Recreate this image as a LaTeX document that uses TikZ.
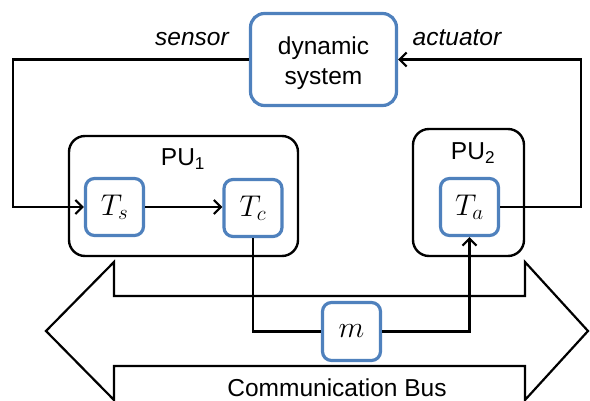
\documentclass[tikz,border=0pt]{standalone}
\usepackage{fontspec}
\setmainfont{Liberation Sans}
\DeclareFontShape{OML}{cmm}{m}{it}{<-6>cmmi5<6-8>cmmi7<8-11>cmmi10<11->cmmi12}{\skewchar\font=127}
\usetikzlibrary{arrows.meta}
\definecolor{boxblue}{RGB}{79,129,189}
\begin{document}
\begin{tikzpicture}[x=1pt,y=-1pt,
  font=\fontsize{24.5}{30}\selectfont,
  task/.style={draw=boxblue, line width=3.2pt, rounded corners=9pt, fill=white,
    minimum width=58pt, minimum height=57pt, inner sep=0pt,
    font=\fontsize{30}{30}\selectfont},
  pubox/.style={draw, line width=2.4pt, rounded corners=16pt, inner sep=0pt},
  conn/.style={line width=2.2pt},
  arr/.style={conn, -{Straight Barb[length=7pt,width=14pt,line width=2.2pt]}},
  lbl/.style={inner sep=0pt, anchor=base}
]
\useasboundingbox (0,0) rectangle (590,401);
% communication bus
\draw[conn, line join=miter] (46,331) -- (114,262) -- (114,296) -- (525,296) -- (525,262)
  -- (588,331) -- (525,400) -- (525,366) -- (114,366) -- (114,400) -- cycle;
\node[lbl] (buslbl) at (337,396) {Communication Bus};
% dynamic system
\node[draw=boxblue, line width=3.2pt, rounded corners=14pt, minimum width=146pt,
  minimum height=92pt, inner sep=0pt] (dyn) at (323.5,59.5) {};
\node[align=center, inner sep=0pt] (dyntxt) at (323.5,63) {dynamic\\system};
\node[lbl, font=\fontsize{24.5}{30}\selectfont\itshape] (sensorlbl) at (192,46) {sensor};
\node[lbl, font=\fontsize{24.5}{30}\selectfont\itshape] (actlbl) at (457,46) {actuator};
% processing units
\node[pubox, minimum width=229pt, minimum height=120pt] (pu1) at (183.5,196) {};
\node[pubox, minimum width=111pt, minimum height=127pt] (pu2) at (468.5,192.5) {};
\node[lbl] (pu1lbl) at (183,166) {PU\textsubscript{1}};
\node[lbl] (pu2lbl) at (473,160) {PU\textsubscript{2}};
% tasks
\node[task] (Ts) at (114.5,207) {$T_s$};
\node[task] (Tc) at (253,208) {$T_c$};
\node[task] (Ta) at (469.5,207) {$T_a$};
\node[task, minimum height=58pt] (m) at (351.5,331.5) {$m$};
% connectors
\coordinate (sL) at (13,59.5);
\coordinate (aR) at (581,59.5);
\draw[arr] (dyn.west) -- (sL) |- (Ts.west);
\draw[arr] (Ts.east) -- (Ts.east -| Tc.west);
\draw[arr] (Ta.east) -| (aR) -- (dyn.east);
\draw[conn] (Tc.south) |- (m.west);
\draw[arr] (m.east) -| (Ta.south);
\end{tikzpicture}
\end{document}
